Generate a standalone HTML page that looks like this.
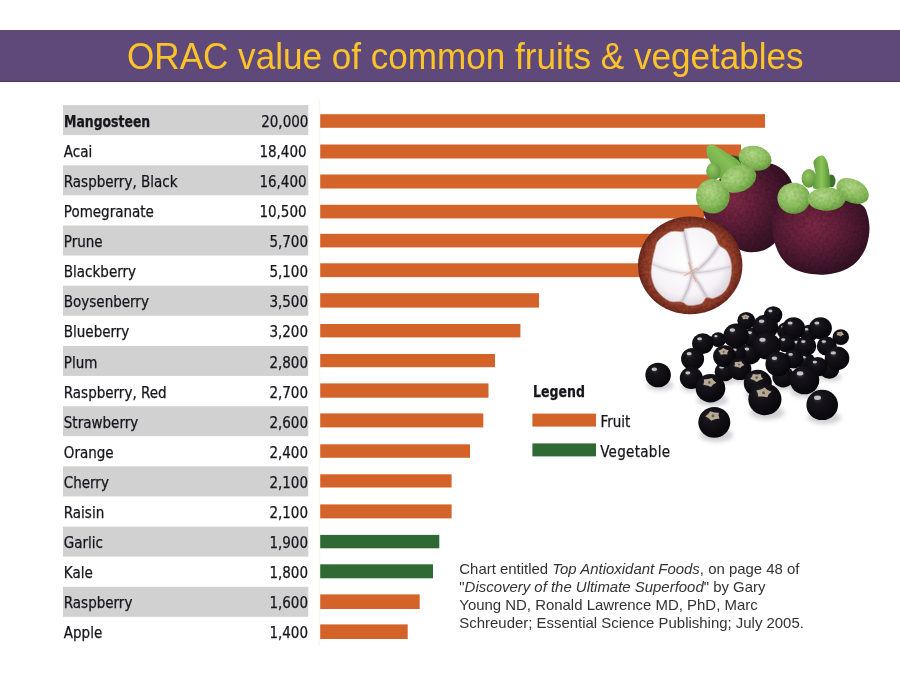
<!DOCTYPE html><html lang="en"><head><meta charset="utf-8"><title>ORAC value of common fruits &amp; vegetables</title><style>
html,body{margin:0;padding:0;background:#fff}
#s{position:relative;width:900px;height:675px;overflow:hidden;background:#fff;font-family:"DejaVu Sans Condensed","DejaVu Sans","Liberation Sans",sans-serif;color:#16161d}
#hd{position:absolute;left:0;top:30px;width:900px;height:51.5px;background:#5f497a;border-bottom:1px solid #4a3760;box-sizing:border-box}
#ti{position:absolute;left:127.1px;top:36.7px;white-space:nowrap;font-family:"Liberation Sans",sans-serif;font-size:36px;line-height:40px;color:#fcc428;transform:scaleX(.9746);transform-origin:0 0}
#ch,#fr{position:absolute;left:0;top:0}
.n{position:absolute;left:63.8px;line-height:30px;font-size:15px;white-space:nowrap;-webkit-text-stroke:.25px #16161d}
.v{position:absolute;right:593.4px;line-height:30px;font-size:15px;white-space:nowrap;-webkit-text-stroke:.25px #16161d}
.lg{position:absolute;font-size:15px;line-height:18px;white-space:nowrap;-webkit-text-stroke:.25px #16161d}
#ct{position:absolute;left:459.3px;top:559.6px;width:360px;font-family:"Liberation Sans",sans-serif;font-size:14.95px;line-height:18px;color:#333;white-space:nowrap}
b.c{display:inline-block;transform:scaleX(.922);transform-origin:0 50%}
</style></head><body><div id="s">
<div id="hd"></div><div id="ti">ORAC value of common fruits &amp; vegetables</div>
<svg id="ch" width="900" height="675" viewBox="0 0 900 675">
<rect x="318.6" y="100" width="1.6" height="546" fill="#fcf5ea"/>
<rect x="63" y="105.1" width="245.3" height="30" fill="#d1d1d1"/>
<rect x="63" y="165.3" width="245.3" height="30" fill="#d1d1d1"/>
<rect x="63" y="225.5" width="245.3" height="30" fill="#d1d1d1"/>
<rect x="63" y="285.7" width="245.3" height="30" fill="#d1d1d1"/>
<rect x="63" y="345.9" width="245.3" height="30" fill="#d1d1d1"/>
<rect x="63" y="406.2" width="245.3" height="30" fill="#d1d1d1"/>
<rect x="63" y="466.4" width="245.3" height="30" fill="#d1d1d1"/>
<rect x="63" y="526.6" width="245.3" height="30" fill="#d1d1d1"/>
<rect x="63" y="586.8" width="245.3" height="30" fill="#d1d1d1"/>
<rect x="320.2" y="114.2" width="444.8" height="13.6" fill="#d4632a"/>
<rect x="320.2" y="144.5" width="420.8" height="14" fill="#d4632a"/>
<rect x="320.2" y="174.5" width="391.8" height="14" fill="#d4632a"/>
<rect x="320.2" y="204.8" width="383.8" height="13.6" fill="#d4632a"/>
<rect x="320.2" y="233.8" width="339.8" height="13.6" fill="#d4632a"/>
<rect x="320.2" y="263.3" width="334.8" height="13.8" fill="#d4632a"/>
<rect x="320.2" y="293.2" width="218.8" height="14.4" fill="#d4632a"/>
<rect x="320.2" y="324" width="200.2" height="13.4" fill="#d4632a"/>
<rect x="320.2" y="354" width="174.8" height="13.2" fill="#d4632a"/>
<rect x="320.2" y="383.4" width="168.3" height="14.3" fill="#d4632a"/>
<rect x="320.2" y="413.4" width="163.1" height="14" fill="#d4632a"/>
<rect x="320.2" y="444.3" width="149.8" height="13.5" fill="#d4632a"/>
<rect x="320.2" y="474.3" width="131.4" height="13.2" fill="#d4632a"/>
<rect x="320.2" y="504.4" width="131.4" height="14" fill="#d4632a"/>
<rect x="320.2" y="534.9" width="119.1" height="13.4" fill="#2f6a35"/>
<rect x="320.2" y="564.3" width="112.8" height="14" fill="#2f6a35"/>
<rect x="320.2" y="594.4" width="99.5" height="14.6" fill="#d4632a"/>
<rect x="320.2" y="624.4" width="87.5" height="14.6" fill="#d4632a"/>
<rect x="532.4" y="413.6" width="63.6" height="13" fill="#d4632a"/><rect x="532.4" y="443.4" width="63.6" height="13" fill="#2f6a35"/>
</svg>
<div class="n" style="top:106.9px"><b class="c">Mangosteen</b></div><div class="v" style="top:106.9px;right:591.6px">20,000</div>
<div class="n" style="top:137.0px">Acai</div><div class="v" style="top:137.0px">18,400</div>
<div class="n" style="top:167.0px">Raspberry, Black</div><div class="v" style="top:167.0px">16,400</div>
<div class="n" style="top:197.1px">Pomegranate</div><div class="v" style="top:197.1px">10,500</div>
<div class="n" style="top:227.2px">Prune</div><div class="v" style="top:227.2px;right:592px">5,700</div>
<div class="n" style="top:257.2px">Blackberry</div><div class="v" style="top:257.2px;right:592px">5,100</div>
<div class="n" style="top:287.3px">Boysenberry</div><div class="v" style="top:287.3px;right:592px">3,500</div>
<div class="n" style="top:317.4px">Blueberry</div><div class="v" style="top:317.4px;right:592px">3,200</div>
<div class="n" style="top:347.5px">Plum</div><div class="v" style="top:347.5px;right:592px">2,800</div>
<div class="n" style="top:377.5px">Raspberry, Red</div><div class="v" style="top:377.5px;right:592px">2,700</div>
<div class="n" style="top:407.6px">Strawberry</div><div class="v" style="top:407.6px;right:592px">2,600</div>
<div class="n" style="top:437.7px">Orange</div><div class="v" style="top:437.7px;right:592px">2,400</div>
<div class="n" style="top:467.7px">Cherry</div><div class="v" style="top:467.7px;right:592px">2,100</div>
<div class="n" style="top:497.8px">Raisin</div><div class="v" style="top:497.8px;right:592px">2,100</div>
<div class="n" style="top:527.9px">Garlic</div><div class="v" style="top:527.9px;right:592px">1,900</div>
<div class="n" style="top:558.0px">Kale</div><div class="v" style="top:558.0px;right:592px">1,800</div>
<div class="n" style="top:588.0px">Raspberry</div><div class="v" style="top:588.0px;right:592px">1,600</div>
<div class="n" style="top:618.1px">Apple</div><div class="v" style="top:618.1px;right:592px">1,400</div>
<svg id="fr" width="900" height="675" viewBox="0 0 900 675" style="position:absolute;left:0;top:0">
<defs>
<radialGradient id="mA" cx=".33" cy=".40" r=".74"><stop offset="0" stop-color="#842a48"/><stop offset=".35" stop-color="#65203a"/><stop offset=".7" stop-color="#43162c"/><stop offset="1" stop-color="#2e0e20"/></radialGradient>
<radialGradient id="mB" cx=".42" cy=".36" r=".72"><stop offset="0" stop-color="#7f2946"/><stop offset=".4" stop-color="#621f39"/><stop offset=".75" stop-color="#40152b"/><stop offset="1" stop-color="#2c0e20"/></radialGradient>
<radialGradient id="lf" cx=".4" cy=".35" r=".75"><stop offset="0" stop-color="#b6da8a"/><stop offset=".55" stop-color="#8fc260"/><stop offset="1" stop-color="#5e9638"/></radialGradient>
<linearGradient id="sA" x1="1" y1="0" x2="0" y2="1"><stop offset="0" stop-color="#4f8a33"/><stop offset=".45" stop-color="#86c056"/><stop offset="1" stop-color="#5a9438"/></linearGradient>
<radialGradient id="lf2" cx=".4" cy=".35" r=".75"><stop offset="0" stop-color="#93c763"/><stop offset="1" stop-color="#558f35"/></radialGradient>
<linearGradient id="st" x1="0" y1="0" x2="1" y2="0"><stop offset="0" stop-color="#5e9a3c"/><stop offset=".5" stop-color="#8cc659"/><stop offset="1" stop-color="#4f8a33"/></linearGradient>
<radialGradient id="rd" cx=".5" cy=".5" r=".5"><stop offset=".68" stop-color="#a94a30"/><stop offset=".86" stop-color="#97402b"/><stop offset="1" stop-color="#712a1f"/></radialGradient>
<radialGradient id="wl" cx=".45" cy=".42" r=".6"><stop offset="0" stop-color="#ffffff"/><stop offset=".75" stop-color="#f6f3f6"/><stop offset="1" stop-color="#dcd5dc"/></radialGradient>
<radialGradient id="bk" cx=".36" cy=".3" r=".75"><stop offset="0" stop-color="#3a3740"/><stop offset=".22" stop-color="#17151c"/><stop offset="1" stop-color="#060509"/></radialGradient>
<filter id="bl" x="-30%" y="-30%" width="160%" height="160%"><feGaussianBlur stdDeviation="2.2"/></filter>
<filter id="b1" x="-30%" y="-30%" width="160%" height="160%"><feGaussianBlur stdDeviation=".7"/></filter>
<filter id="b2" x="-30%" y="-30%" width="160%" height="160%"><feGaussianBlur stdDeviation="1.2"/></filter>
<filter id="tx" x="0" y="0" width="100%" height="100%"><feTurbulence type="fractalNoise" baseFrequency=".35" numOctaves="2" seed="3" result="n"/><feColorMatrix in="n" type="matrix" values="0 0 0 0 0  0 0 0 0 0  0 0 0 0 0  0 0 0 .9 -.28" result="a"/><feComposite in="a" in2="SourceGraphic" operator="in"/></filter>
</defs>
<g id="mangA">
<path d="M756.1 166.1C762.3 164.7 764.8 162.9 769.1 163.3C773.4 163.8 778.5 166.3 782.0 168.9C785.6 171.5 788.5 175.5 790.4 179.1C792.2 182.7 792.8 186.2 793.0 190.6C793.1 194.9 792.6 199.8 791.5 205.4C790.3 210.9 788.5 218.0 786.1 223.9C783.7 229.8 780.3 236.3 776.9 240.6C773.4 244.8 769.8 247.5 765.4 249.4C761.0 251.4 755.2 252.4 750.6 252.2C745.9 252.1 741.9 250.7 737.6 248.5C733.3 246.3 728.6 242.8 724.6 239.1C720.6 235.3 717.0 230.2 713.5 226.1C710.1 222.0 705.2 219.6 703.9 214.6C702.6 209.6 703.5 201.7 705.7 196.1C708.0 190.6 712.8 185.3 717.2 181.3C721.6 177.3 725.6 174.6 732.0 172.0C738.5 169.5 749.9 167.6 756.1 166.1Z" fill="url(#mA)"/>
<path d="M756.1 166.1C762.3 164.7 764.8 162.9 769.1 163.3C773.4 163.8 778.5 166.3 782.0 168.9C785.6 171.5 788.5 175.5 790.4 179.1C792.2 182.7 792.8 186.2 793.0 190.6C793.1 194.9 792.6 199.8 791.5 205.4C790.3 210.9 788.5 218.0 786.1 223.9C783.7 229.8 780.3 236.3 776.9 240.6C773.4 244.8 769.8 247.5 765.4 249.4C761.0 251.4 755.2 252.4 750.6 252.2C745.9 252.1 741.9 250.7 737.6 248.5C733.3 246.3 728.6 242.8 724.6 239.1C720.6 235.3 717.0 230.2 713.5 226.1C710.1 222.0 705.2 219.6 703.9 214.6C702.6 209.6 703.5 201.7 705.7 196.1C708.0 190.6 712.8 185.3 717.2 181.3C721.6 177.3 725.6 174.6 732.0 172.0C738.5 169.5 749.9 167.6 756.1 166.1Z" fill="#2a0c1c" filter="url(#tx)" opacity=".4"/>
<polygon points="726.5,154.4 742.2,156.9 740.4,166.5 731.1,165.6" fill="#2c4a22"/>
<path d="M706.8 146.8C707.3 145.6 710.4 144.4 711.6 144.4C712.8 144.4 713.8 144.7 716.9 146.6C720.0 148.5 735.2 157.9 738.2 160.4C741.2 162.9 743.6 165.9 742.7 168.4C741.8 170.9 732.9 180.6 730.2 181.8C727.5 183.0 721.7 180.3 719.6 178.4C717.5 176.5 713.7 168.3 712.2 165.5C710.7 162.7 707.6 156.7 707.0 154.5C706.4 152.3 706.3 148.0 706.8 146.8Z" fill="url(#sA)"/>
<ellipse cx="713.5" cy="171.3" rx="7.2" ry="8.8" fill="url(#lf2)"/>
<ellipse cx="755" cy="158.2" rx="16.7" ry="12.2" transform="rotate(14 755 158.2)" fill="url(#lf)"/>
<ellipse cx="712.8" cy="196.3" rx="16.9" ry="17.3" fill="url(#lf)"/>
<ellipse cx="738.5" cy="178.8" rx="18.3" ry="13.2" transform="rotate(-22 738.5 178.8)" fill="url(#lf)"/>
<g filter="url(#tx)" fill="#3f6f28" opacity=".22"><ellipse cx="755" cy="158.2" rx="16.7" ry="12.2" transform="rotate(14 755 158.2)"/><ellipse cx="712.8" cy="196.3" rx="16.9" ry="17.3"/><ellipse cx="738.5" cy="178.8" rx="18.3" ry="13.2" transform="rotate(-22 738.5 178.8)"/></g>
</g>
<g id="mangB">
<path d="M775.8 209.7C773.0 213.8 772.7 221.6 772.5 227.1C772.3 232.5 773.1 237.3 774.6 242.5C776.1 247.6 778.5 253.6 781.6 257.9C784.6 262.2 788.6 265.9 793.1 268.5C797.6 271.1 803.1 272.5 808.5 273.5C814.0 274.5 820.1 275.0 825.9 274.5C831.7 274.0 838.1 272.7 843.2 270.6C848.4 268.5 853.0 265.5 856.7 261.8C860.4 258.0 863.4 253.4 865.6 248.3C867.7 243.1 869.1 236.4 869.4 230.9C869.8 225.5 868.8 219.7 867.7 215.5C866.5 211.3 865.9 208.0 862.5 205.5C859.0 203.0 854.5 201.5 847.1 200.5C839.7 199.4 827.8 198.8 818.2 199.1C808.5 199.5 796.3 200.6 789.3 202.4C782.2 204.2 778.6 205.6 775.8 209.7Z" fill="url(#mB)"/>
<path d="M775.8 209.7C773.0 213.8 772.7 221.6 772.5 227.1C772.3 232.5 773.1 237.3 774.6 242.5C776.1 247.6 778.5 253.6 781.6 257.9C784.6 262.2 788.6 265.9 793.1 268.5C797.6 271.1 803.1 272.5 808.5 273.5C814.0 274.5 820.1 275.0 825.9 274.5C831.7 274.0 838.1 272.7 843.2 270.6C848.4 268.5 853.0 265.5 856.7 261.8C860.4 258.0 863.4 253.4 865.6 248.3C867.7 243.1 869.1 236.4 869.4 230.9C869.8 225.5 868.8 219.7 867.7 215.5C866.5 211.3 865.9 208.0 862.5 205.5C859.0 203.0 854.5 201.5 847.1 200.5C839.7 199.4 827.8 198.8 818.2 199.1C808.5 199.5 796.3 200.6 789.3 202.4C782.2 204.2 778.6 205.6 775.8 209.7Z" fill="#2a0c1c" filter="url(#tx)" opacity=".4"/>
<ellipse cx="809" cy="178.4" rx="7.4" ry="9.4" fill="url(#lf2)"/>
<ellipse cx="831.5" cy="181" rx="4" ry="6.5" fill="#3f7029"/>
<path d="M813.5 161.9C813.9 160.0 817.0 157.3 818.2 156.6C819.3 155.8 822.2 154.9 823.4 155.8C824.5 156.6 827.0 160.2 827.8 163.9C828.6 167.5 831.8 184.2 830.1 187.0C828.5 189.8 815.3 189.7 813.5 188.2C811.8 186.6 815.5 176.6 815.5 173.5C815.5 170.4 813.2 163.9 813.5 161.9Z" fill="url(#st)"/>
<ellipse cx="852.6" cy="191" rx="17.2" ry="11.5" transform="rotate(28 852.6 191)" fill="url(#lf)"/>
<ellipse cx="793.8" cy="198.2" rx="16.4" ry="15.5" fill="url(#lf)"/>
<ellipse cx="826.5" cy="199.1" rx="19" ry="11.6" fill="url(#lf)"/>
<g filter="url(#tx)" fill="#3f6f28" opacity=".22"><ellipse cx="852.6" cy="191" rx="17.2" ry="11.5" transform="rotate(28 852.6 191)"/><ellipse cx="793.8" cy="198.2" rx="16.4" ry="15.5"/><ellipse cx="826.5" cy="199.1" rx="19" ry="11.6"/></g>
</g>
<g id="cut">
<ellipse cx="690.2" cy="265.4" rx="52.2" ry="48.9" fill="url(#rd)"/>
<ellipse cx="690.2" cy="265.4" rx="52.2" ry="48.9" fill="#5a1e14" filter="url(#tx)" opacity=".5"/>
<clipPath id="cf"><path d="M658.4 240.6C661.1 237.6 666.7 233.1 670.9 231.7C675.0 230.2 680.9 232.2 683.3 231.7C685.8 231.2 682.5 229.3 685.5 228.6C688.4 228.0 696.4 226.8 701.1 227.8C705.8 228.7 710.6 231.5 713.6 234.3C716.5 237.2 716.7 242.2 718.9 245.0C721.1 247.8 724.8 248.1 726.9 251.2C729.0 254.3 730.7 258.9 731.3 263.7C731.9 268.4 731.6 274.9 730.4 279.7C729.3 284.4 727.0 289.0 724.2 292.1C721.4 295.2 716.5 297.4 713.6 298.3C710.6 299.2 708.5 296.6 706.4 297.4C704.4 298.3 704.1 302.3 701.1 303.7C698.1 305.0 691.9 305.7 688.7 305.4C685.4 305.1 684.8 302.6 681.6 301.9C678.3 301.1 673.3 302.9 669.1 301.0C665.0 299.1 659.6 294.5 656.7 290.3C653.7 286.2 652.1 280.9 651.3 276.1C650.6 271.4 651.6 266.3 652.2 261.9C652.8 257.4 653.9 253.0 654.9 249.4C655.9 245.9 655.8 243.5 658.4 240.6Z"/></clipPath>
<path d="M658.4 240.6C661.1 237.6 666.7 233.1 670.9 231.7C675.0 230.2 680.9 232.2 683.3 231.7C685.8 231.2 682.5 229.3 685.5 228.6C688.4 228.0 696.4 226.8 701.1 227.8C705.8 228.7 710.6 231.5 713.6 234.3C716.5 237.2 716.7 242.2 718.9 245.0C721.1 247.8 724.8 248.1 726.9 251.2C729.0 254.3 730.7 258.9 731.3 263.7C731.9 268.4 731.6 274.9 730.4 279.7C729.3 284.4 727.0 289.0 724.2 292.1C721.4 295.2 716.5 297.4 713.6 298.3C710.6 299.2 708.5 296.6 706.4 297.4C704.4 298.3 704.1 302.3 701.1 303.7C698.1 305.0 691.9 305.7 688.7 305.4C685.4 305.1 684.8 302.6 681.6 301.9C678.3 301.1 673.3 302.9 669.1 301.0C665.0 299.1 659.6 294.5 656.7 290.3C653.7 286.2 652.1 280.9 651.3 276.1C650.6 271.4 651.6 266.3 652.2 261.9C652.8 257.4 653.9 253.0 654.9 249.4C655.9 245.9 655.8 243.5 658.4 240.6Z" fill="url(#wl)" stroke="#b89a98" stroke-width=".7"/>
<g clip-path="url(#cf)">
<g filter="url(#b2)" stroke="#cdc2ce" stroke-width="3.6" fill="none" stroke-linecap="round">
<path d="M692.2 273.4Q687.8 251.2 684.2 231.7" opacity="0.80"/>
<path d="M692.2 273.4Q708.2 263.7 718.9 245.0" opacity="0.80"/>
<path d="M692.2 273.4Q713.6 271.7 731.3 266.3" opacity="0.48"/>
<path d="M692.2 273.4Q700.2 285.0 706.8 297.4" opacity="0.80"/>
<path d="M692.2 273.4Q689.6 288.6 681.6 301.9" opacity="0.72"/>
<path d="M692.2 273.4Q670.9 273.4 651.7 263.7" opacity="0.48"/>
</g>
<g filter="url(#b1)" stroke="#bfb2c0" stroke-width="1" fill="none">
<path d="M692.2 273.4Q687.8 251.2 684.2 231.7" opacity="0.70"/>
<path d="M692.2 273.4Q708.2 263.7 718.9 245.0" opacity="0.70"/>
<path d="M692.2 273.4Q713.6 271.7 731.3 266.3" opacity="0.42"/>
<path d="M692.2 273.4Q700.2 285.0 706.8 297.4" opacity="0.70"/>
<path d="M692.2 273.4Q689.6 288.6 681.6 301.9" opacity="0.63"/>
<path d="M692.2 273.4Q670.9 273.4 651.7 263.7" opacity="0.42"/>
</g></g>
<path d="M688.5 262 L692 272 L696 282 M684 276 L697 268" stroke="#e3a377" stroke-width="1.4" fill="none" opacity=".7" filter="url(#b1)"/>
</g>
<g id="acai">
<g filter="url(#bl)" fill="#bdbdc2" opacity=".7">
<ellipse cx="785.3" cy="385.6" rx="11.6" ry="4.6"/>
<ellipse cx="726.6" cy="379.7" rx="10.5" ry="4.2"/>
<ellipse cx="831.3" cy="377.1" rx="10.5" ry="4.2"/>
<ellipse cx="819.8" cy="374.6" rx="10.5" ry="4.2"/>
<ellipse cx="741.9" cy="378.3" rx="12.1" ry="4.8"/>
<ellipse cx="660.1" cy="385.2" rx="13.4" ry="5.4"/>
<ellipse cx="693.3" cy="387.2" rx="12.1" ry="4.8"/>
<ellipse cx="806.5" cy="391.9" rx="15.5" ry="6.2"/>
<ellipse cx="759.8" cy="394.4" rx="14.7" ry="5.9"/>
<ellipse cx="712.5" cy="400.1" rx="15.5" ry="6.2"/>
<ellipse cx="766.9" cy="412.6" rx="17.4" ry="7.0"/>
<ellipse cx="824.2" cy="417.5" rx="16.6" ry="6.6"/>
<ellipse cx="716.3" cy="435.1" rx="16.8" ry="6.7"/>
</g>
<ellipse cx="750.1" cy="353.8" rx="11" ry="10.6" fill="url(#bk)"/>
<ellipse cx="746.8" cy="348.9" rx="2.4" ry="1.5" fill="#e8e8ee" opacity=".8" filter="url(#b1)"/>
<ellipse cx="785.9" cy="330.8" rx="9" ry="8.6" fill="url(#bk)"/>
<ellipse cx="783.2" cy="326.8" rx="2.0" ry="1.3" fill="#e8e8ee" opacity=".8" filter="url(#b1)"/>
<ellipse cx="806.3" cy="361.4" rx="9" ry="8.6" fill="url(#bk)"/>
<ellipse cx="803.6" cy="357.3" rx="2.0" ry="1.3" fill="#e8e8ee" opacity=".8" filter="url(#b1)"/>
<ellipse cx="783.3" cy="376.8" rx="11" ry="10.6" fill="url(#bk)"/>
<ellipse cx="780.0" cy="371.9" rx="2.4" ry="1.5" fill="#e8e8ee" opacity=".8" filter="url(#b1)"/>
<ellipse cx="724.6" cy="371.7" rx="10" ry="9.6" fill="url(#bk)"/>
<ellipse cx="721.6" cy="367.2" rx="2.2" ry="1.4" fill="#e8e8ee" opacity=".8" filter="url(#b1)"/>
<ellipse cx="752.7" cy="337.2" rx="10" ry="9.6" fill="url(#bk)"/>
<ellipse cx="749.7" cy="332.7" rx="2.2" ry="1.4" fill="#e8e8ee" opacity=".8" filter="url(#b1)"/>
<ellipse cx="808.9" cy="333.3" rx="9" ry="8.6" fill="url(#bk)"/>
<ellipse cx="806.2" cy="329.2" rx="2.0" ry="1.3" fill="#e8e8ee" opacity=".8" filter="url(#b1)"/>
<ellipse cx="829.3" cy="369.1" rx="10" ry="9.6" fill="url(#bk)"/>
<ellipse cx="826.3" cy="364.6" rx="2.2" ry="1.4" fill="#e8e8ee" opacity=".8" filter="url(#b1)"/>
<ellipse cx="798.7" cy="346.1" rx="9" ry="8.6" fill="url(#bk)"/>
<ellipse cx="796.0" cy="342.1" rx="2.0" ry="1.3" fill="#e8e8ee" opacity=".8" filter="url(#b1)"/>
<ellipse cx="737.3" cy="353.8" rx="9" ry="8.6" fill="url(#bk)"/>
<ellipse cx="734.6" cy="349.8" rx="2.0" ry="1.3" fill="#e8e8ee" opacity=".8" filter="url(#b1)"/>
<ellipse cx="773.2" cy="315" rx="9.2" ry="8.8" fill="url(#bk)"/>
<ellipse cx="770.4" cy="310.9" rx="2.0" ry="1.3" fill="#e8e8ee" opacity=".8" filter="url(#b1)"/>
<ellipse cx="746.3" cy="320.6" rx="9" ry="8.6" fill="url(#bk)"/>
<polygon points="745.6,314.2 747.4,315.4 749.7,316.1 748.5,317.6 748.1,319.3 745.6,319.0 743.0,319.3 742.6,317.6 741.5,316.1 743.8,315.4" fill="#c6b8a2" opacity=".9" filter="url(#b1)"/>
<circle cx="745.6" cy="317.0" r="0.8" fill="#6b5846"/>
<ellipse cx="793.6" cy="328.2" rx="11.5" ry="11.0" fill="url(#bk)"/>
<ellipse cx="790.1" cy="323.0" rx="2.5" ry="1.6" fill="#e8e8ee" opacity=".8" filter="url(#b1)"/>
<ellipse cx="820.4" cy="328.2" rx="11.5" ry="11.0" fill="url(#bk)"/>
<ellipse cx="816.9" cy="323.0" rx="2.5" ry="1.6" fill="#e8e8ee" opacity=".8" filter="url(#b1)"/>
<ellipse cx="840.8" cy="337.2" rx="8.2" ry="7.9" fill="url(#bk)"/>
<polygon points="840.7,336.5 838.8,335.5 836.6,335.0 837.4,333.6 837.4,332.1 839.8,332.1 842.0,331.6 842.7,333.1 844.0,334.4 842.1,335.3" fill="#c6b8a2" opacity=".9" filter="url(#b1)"/>
<circle cx="840.1" cy="333.9" r="0.7" fill="#6b5846"/>
<ellipse cx="765.4" cy="327" rx="12.8" ry="12.3" fill="url(#bk)"/>
<ellipse cx="761.6" cy="321.2" rx="2.8" ry="1.8" fill="#e8e8ee" opacity=".8" filter="url(#b1)"/>
<ellipse cx="736.1" cy="335.9" rx="12.8" ry="12.3" fill="url(#bk)"/>
<ellipse cx="732.3" cy="330.1" rx="2.8" ry="1.8" fill="#e8e8ee" opacity=".8" filter="url(#b1)"/>
<ellipse cx="718.2" cy="339.7" rx="7.7" ry="7.4" fill="url(#bk)"/>
<ellipse cx="715.9" cy="336.2" rx="1.7" ry="1.1" fill="#e8e8ee" opacity=".8" filter="url(#b1)"/>
<ellipse cx="702.8" cy="343.6" rx="10.7" ry="10.3" fill="url(#bk)"/>
<ellipse cx="699.6" cy="338.8" rx="2.4" ry="1.5" fill="#e8e8ee" opacity=".8" filter="url(#b1)"/>
<ellipse cx="806.3" cy="346.1" rx="10" ry="9.6" fill="url(#bk)"/>
<ellipse cx="803.3" cy="341.6" rx="2.2" ry="1.4" fill="#e8e8ee" opacity=".8" filter="url(#b1)"/>
<ellipse cx="826.8" cy="346.1" rx="10" ry="9.6" fill="url(#bk)"/>
<ellipse cx="823.8" cy="341.6" rx="2.2" ry="1.4" fill="#e8e8ee" opacity=".8" filter="url(#b1)"/>
<ellipse cx="785.9" cy="343.6" rx="9" ry="8.6" fill="url(#bk)"/>
<ellipse cx="783.2" cy="339.6" rx="2.0" ry="1.3" fill="#e8e8ee" opacity=".8" filter="url(#b1)"/>
<ellipse cx="766.7" cy="346.1" rx="14" ry="13.4" fill="url(#bk)"/>
<ellipse cx="762.5" cy="339.8" rx="3.1" ry="2.0" fill="#e8e8ee" opacity=".8" filter="url(#b1)"/>
<ellipse cx="837" cy="358.4" rx="12.3" ry="11.8" fill="url(#bk)"/>
<ellipse cx="833.3" cy="352.9" rx="2.7" ry="1.7" fill="#e8e8ee" opacity=".8" filter="url(#b1)"/>
<ellipse cx="793.6" cy="358.9" rx="10" ry="9.6" fill="url(#bk)"/>
<ellipse cx="790.6" cy="354.4" rx="2.2" ry="1.4" fill="#e8e8ee" opacity=".8" filter="url(#b1)"/>
<ellipse cx="778.2" cy="364" rx="12.8" ry="12.3" fill="url(#bk)"/>
<ellipse cx="774.4" cy="358.2" rx="2.8" ry="1.8" fill="#e8e8ee" opacity=".8" filter="url(#b1)"/>
<ellipse cx="724.6" cy="356.3" rx="11.5" ry="11.0" fill="url(#bk)"/>
<polygon points="727.3,354.5 724.0,354.3 720.8,354.8 720.0,352.7 718.3,350.8 721.1,349.7 723.3,348.1 725.8,349.5 728.8,350.3 727.5,352.3" fill="#c6b8a2" opacity=".9" filter="url(#b1)"/>
<circle cx="723.7" cy="351.7" r="1.0" fill="#6b5846"/>
<ellipse cx="692.6" cy="358.9" rx="11.5" ry="11.0" fill="url(#bk)"/>
<ellipse cx="689.1" cy="353.7" rx="2.5" ry="1.6" fill="#e8e8ee" opacity=".8" filter="url(#b1)"/>
<ellipse cx="817.8" cy="366.6" rx="10" ry="9.6" fill="url(#bk)"/>
<ellipse cx="814.8" cy="362.1" rx="2.2" ry="1.4" fill="#e8e8ee" opacity=".8" filter="url(#b1)"/>
<ellipse cx="739.9" cy="369.1" rx="11.5" ry="11.0" fill="url(#bk)"/>
<polygon points="734.8,362.1 738.1,362.0 741.2,361.2 742.4,363.2 744.5,364.9 741.9,366.2 740.2,368.0 737.4,366.9 734.2,366.3 735.0,364.2" fill="#c6b8a2" opacity=".9" filter="url(#b1)"/>
<circle cx="739.0" cy="364.5" r="1.0" fill="#6b5846"/>
<ellipse cx="658.1" cy="375" rx="12.8" ry="12.3" fill="url(#bk)"/>
<ellipse cx="654.3" cy="369.2" rx="2.8" ry="1.8" fill="#e8e8ee" opacity=".8" filter="url(#b1)"/>
<ellipse cx="691.3" cy="378" rx="11.5" ry="11.0" fill="url(#bk)"/>
<ellipse cx="687.8" cy="372.8" rx="2.5" ry="1.6" fill="#e8e8ee" opacity=".8" filter="url(#b1)"/>
<ellipse cx="804.5" cy="380.1" rx="14.8" ry="14.2" fill="url(#bk)"/>
<ellipse cx="800.1" cy="373.4" rx="3.3" ry="2.1" fill="#e8e8ee" opacity=".8" filter="url(#b1)"/>
<ellipse cx="757.8" cy="383.2" rx="14" ry="13.4" fill="url(#bk)"/>
<polygon points="756.6,382.0 753.8,380.1 750.2,378.9 752.1,376.6 752.8,374.0 756.7,374.5 760.7,374.1 761.3,376.7 763.1,379.0 759.5,380.2" fill="#c6b8a2" opacity=".9" filter="url(#b1)"/>
<circle cx="756.7" cy="377.6" r="1.3" fill="#6b5846"/>
<ellipse cx="710.5" cy="388.3" rx="14.8" ry="14.2" fill="url(#bk)"/>
<polygon points="703.3,384.8 704.2,382.1 703.8,379.4 708.1,379.1 712.0,378.1 713.6,380.6 716.4,382.7 713.2,384.5 711.0,386.9 707.4,385.5" fill="#c6b8a2" opacity=".9" filter="url(#b1)"/>
<circle cx="709.3" cy="382.4" r="1.3" fill="#6b5846"/>
<ellipse cx="764.9" cy="399.3" rx="16.6" ry="15.9" fill="url(#bk)"/>
<polygon points="756.3,390.4 760.8,389.4 764.6,387.5 767.5,389.9 771.5,391.7 768.7,394.3 767.4,397.2 762.8,396.4 758.1,396.5 757.9,393.4" fill="#c6b8a2" opacity=".9" filter="url(#b1)"/>
<circle cx="763.6" cy="392.7" r="1.5" fill="#6b5846"/>
<ellipse cx="822.2" cy="404.9" rx="15.8" ry="15.2" fill="url(#bk)"/>
<ellipse cx="817.5" cy="397.8" rx="3.5" ry="2.2" fill="#e8e8ee" opacity=".8" filter="url(#b1)"/>
<ellipse cx="714.3" cy="422.3" rx="16" ry="15.4" fill="url(#bk)"/>
<polygon points="718.9,412.7 718.5,415.6 719.6,418.6 715.1,419.2 711.2,420.8 708.8,418.2 705.3,416.3 708.3,414.0 710.1,411.2 714.4,412.4" fill="#c6b8a2" opacity=".9" filter="url(#b1)"/>
<circle cx="713.0" cy="415.9" r="1.4" fill="#6b5846"/>
</g>
</svg>
<div class="lg" style="left:532.5px;top:383.3px"><b class="c" style="transform:scaleX(.93)">Legend</b></div>
<div class="lg" style="left:600.6px;top:413px">Fruit</div>
<div class="lg" style="left:600.2px;top:442.5px;letter-spacing:.3px">Vegetable</div>
<div id="ct">Chart entitled <i>Top Antioxidant Foods</i>, on page 48 of<br>&quot;<i>Discovery of the Ultimate Superfood</i>&quot; by Gary<br>Young ND, Ronald Lawrence MD, PhD, Marc<br>Schreuder; Essential Science Publishing; July 2005.</div>
</div></body></html>
